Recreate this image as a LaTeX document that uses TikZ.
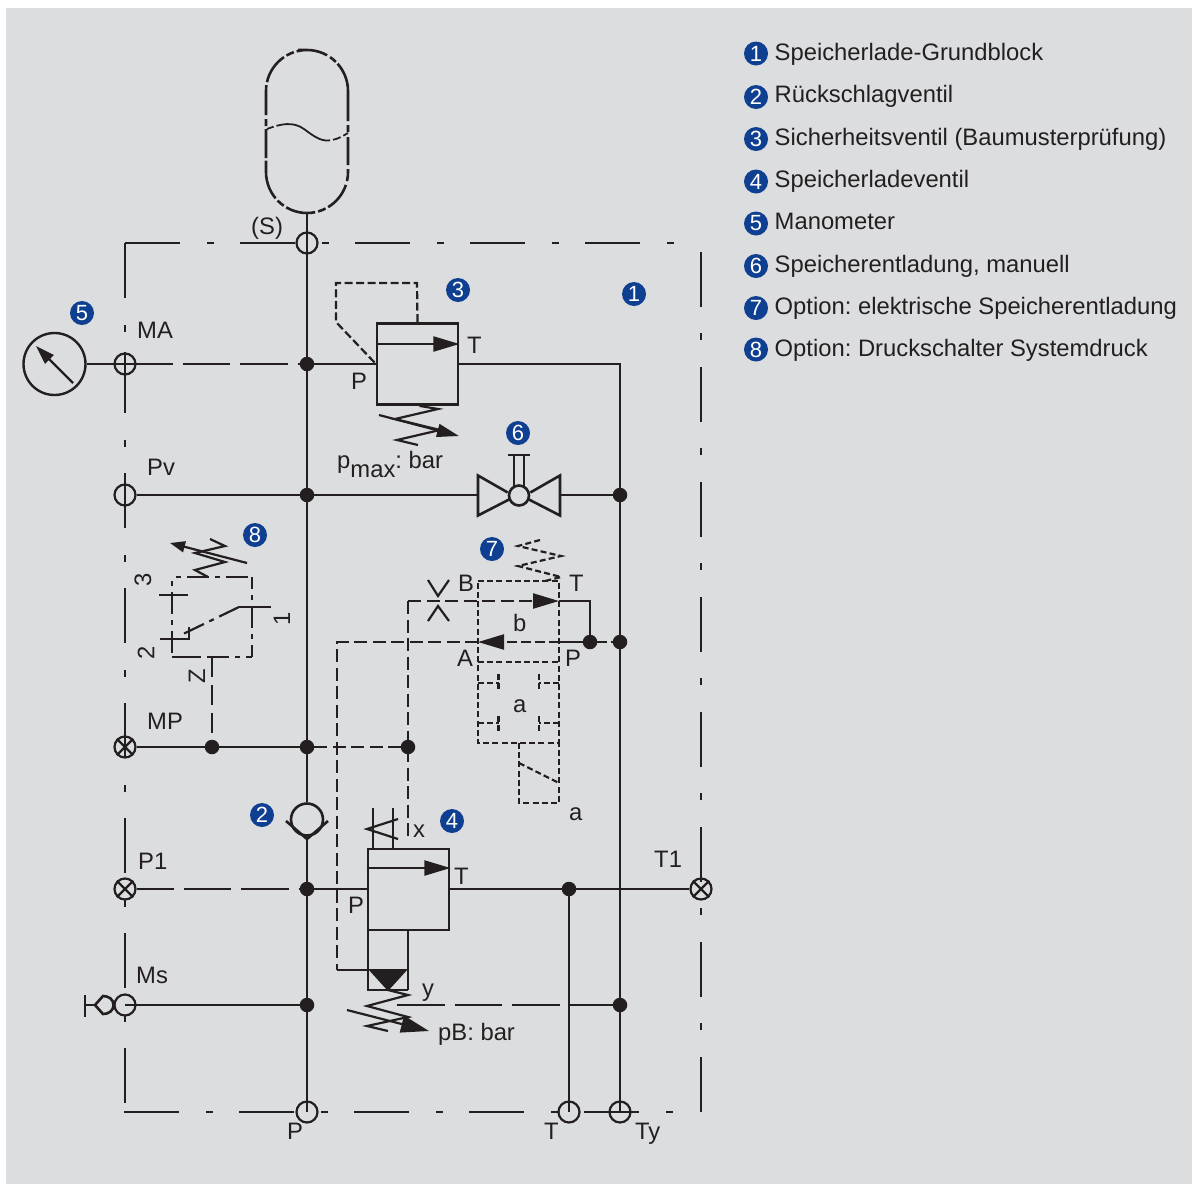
\documentclass[tikz,border=0pt]{standalone}
\usepackage{fontspec}
\setmainfont{Liberation Sans}
\usetikzlibrary{arrows.meta}
\definecolor{panel}{HTML}{DCDDDF}
\definecolor{ink}{HTML}{231F20}
\definecolor{badgeblue}{HTML}{0F3F91}
\tikzset{
  pipe/.style={draw=ink,line width=2.2pt},
  thick box/.style={draw=ink,line width=2.8pt},
  frameline/.style={draw=ink,line width=2.2pt,dash pattern=on 55pt off 27pt on 7pt off 26pt},
  segdash/.style={draw=ink,line width=2.2pt,dash pattern=on 47.5pt off 10pt},
  longdash/.style={draw=ink,line width=2.2pt,dash pattern=on 13pt off 5.5pt},
  boxdash/.style={draw=ink,line width=2.2pt,dash pattern=on 6pt off 3.2pt},
  chaindash/.style={draw=ink,line width=2.2pt,dash pattern=on 22pt off 6pt on 5pt off 6pt},
  junc/.style={circle,fill=ink,draw=none,minimum size=14.5pt,inner sep=0pt},
  port/.style={circle,draw=ink,line width=2.2pt,minimum size=21pt,inner sep=0pt},
  lbl/.style={font=\fontsize{23.8}{24}\selectfont,text=ink,inner sep=0pt,anchor=base west},
  rlbl/.style={font=\fontsize{23.8}{24}\selectfont,text=ink,inner sep=0pt,rotate=90},
  badge/.style={circle,fill=badgeblue,text=white,minimum size=24pt,inner sep=0pt,font=\fontsize{22}{22}\selectfont},
  solidhead/.style={-{Triangle[length=26pt,width=15pt]}},
  adjhead/.style={-{Triangle[length=22pt,width=13pt]}},
}
\begin{document}
\frenchspacing
\begin{tikzpicture}[x=1pt,y=-1pt]
\useasboundingbox (0,0) rectangle (1198,1184);
\fill[panel] (6,8) rectangle (1192,1184);

% --- legend
\foreach \n/\yy/\by/\t in {1/53.5/60.5/Speicherlade-Grundblock,2/97/102.5/Rückschlagventil,3/139/145/Sicherheitsventil (Baumusterprüfung),4/181.5/187.5/Speicherladeventil,5/223.5/229.5/Manometer,6/266/272/{Speicherentladung, manuell},7/308/314.5/Option: elektrische Speicherentladung,8/349.5/356/Option: Druckschalter Systemdruck}{
  \node[badge] (leg\n) at (756,\yy) {\n};
  \node[lbl] (legt\n) at (774.5,\by) {\t};
}

% --- ports
\node[port] (pS) at (307,243) {};
\node[port] (pMA) at (125,364) {};
\node[port] (pPv) at (125,495) {};
\node[port] (pMP) at (125,747) {};
\node[port] (pP1) at (125,889) {};
\node[port] (pMs) at (125,1005) {};
\node[port] (pP) at (307,1112) {};
\node[port] (pT) at (569,1112) {};
\node[port] (pTy) at (620,1112) {};
\node[port] (pT1) at (701,889) {};
\foreach \q in {pMP,pP1,pT1}{
  \draw[pipe] (\q.north west) -- (\q.south east) (\q.north east) -- (\q.south west);
}

% --- junctions
\node[junc] (jMA) at (307,364) {};
\node[junc] (jPv) at (307,495) {};
\node[junc] (jMP) at (307,747) {};
\node[junc] (jP1) at (307,889) {};
\node[junc] (jMs) at (307,1005) {};
\node[junc] (jPvR) at (620,495) {};
\node[junc] (jAR) at (620,642) {};
\node[junc] (jyR) at (620,1005) {};
\node[junc] (jT) at (569,889) {};
\node[junc] (jV) at (590,642) {};
\node[junc] (jZ) at (212,747) {};
\node[junc] (jX) at (408,747) {};

% --- frame
\coordinate (fTL) at (125,243);
\coordinate (fTR) at (675,243);
\coordinate (fBL) at (125,1104);
\coordinate (fB0) at (124,1112);
\coordinate (fBR) at (675,1112);
\coordinate (fRB) at (701,1112);
\coordinate (fRT) at (701,250);
\draw[frameline] (fTL) -- (fTR);
\draw[frameline] (fTL) -- (fBL);
\draw[frameline] (fB0) -- (fBR);
\draw[frameline] (fRB) -- (fRT);

% --- accumulator
\coordinate (tankB) at (307,213);
\draw[draw=ink,line width=2.6pt,dash pattern=on 30pt off 3.5pt on 7.5pt off 2.5pt on 60pt off 4pt on 7pt off 5pt on 28pt off 4pt on 12pt off 4pt on 29pt off 3pt on 8pt off 3pt on 30pt off 3pt on 8pt off 3pt on 40pt off 2.5pt on 29pt off 3pt on 7pt off 4pt on 30pt off 3pt on 31pt off 3pt on 8pt off 3pt]
  (298,50) -- (307,50) .. controls (329.6,50) and (348,68.4) .. (348,91) -- (348,172)
  .. controls (348,194.6) and (329.6,213) .. (tankB)
  .. controls (284.4,213) and (266,194.6) .. (266,172) -- (266,91)
  .. controls (266,68.4) and (284.4,50) .. (307,50);
\draw[draw=ink,line width=1.8pt,dash pattern=on 7pt off 3pt on 58pt off 3pt on 8pt off 3pt on 9pt off 100pt]
  (267,129) .. controls (280,124) and (293,121) .. (304,129)
  .. controls (316,138) and (322,142) .. (332,140) .. controls (338,139) and (343,136) .. (348,133);

% --- main vertical
\node[circle,draw=ink,line width=2.6pt,minimum size=32pt,inner sep=0pt] (cv) at (307,819.5) {};
\coordinate (cvS) at (307,839);
\coordinate (cvL) at (286,821);
\coordinate (cvR) at (328,821);
\draw[draw=ink,line width=2.6pt] (cvL) -- (cvS) -- (cvR);
\draw[pipe] (tankB) -- (cv.north);
\draw[pipe] (cvS) -- (pP.center);

% --- gauge
\node[circle,draw=ink,line width=2.4pt,minimum size=62pt,inner sep=0pt] (gauge) at (54.5,364) {};
\coordinate (ndlA) at (73,383);
\coordinate (ndlB) at (36,346);
\draw[pipe,-{Triangle[length=19pt,width=12pt]}] (ndlA) -- (ndlB);
\draw[pipe] (gauge.east) -- (pMA.center);
\draw[pipe] (pMA.north) -- (pMA.south);

% --- horizontal rows
\draw[segdash] (pMA.center) -- (jMA);
\draw[pipe] (jMA) -- (377,364);
\coordinate (v3T) at (458,364);
\coordinate (cT3) at (620,364);
\draw[pipe] (v3T) -- (cT3) -- (pTy.center);
\draw[pipe] (pPv.east) -- (jPv) -- (478,495);
\draw[pipe] (560,495) -- (jPvR);
\draw[pipe] (pMP.east) -- (jZ) -- (jMP);
\draw[longdash] (jMP) -- (jX);
\draw[segdash,dash phase=10.5pt] (pP1.east) -- (jP1);
\draw[pipe] (jP1) -- (368,889);
\draw[pipe] (449,889) -- (jT) -- (pT1.west);
\draw[pipe] (jT) -- (pT.center);
\draw[pipe] (pMs.center) -- (jMs);
\coordinate (yStart) at (397,1005);
\draw[segdash] (yStart) -- (jyR);

% --- Ms coupling
\coordinate (msCapT) at (85,995);
\coordinate (msCapB) at (85,1017);
\draw[draw=ink,line width=2.4pt] (msCapT) -- (msCapB);
\draw[pipe] (85,1005) -- (95,1005);
\draw[draw=ink,line width=2.6pt] (95,1005) -- (103,996) .. controls (109,996) and (113.5,999.5) .. (113.5,1005) .. controls (113.5,1010.5) and (109,1014) .. (103,1014) -- cycle;

% --- safety valve 3
\node[thick box,rectangle,minimum width=81pt,minimum height=81pt,inner sep=0pt] (v3) at (417.5,364) {};
\draw[pipe,solidhead] (v3.west |- 0,344) -- (v3.east |- 0,344);
\coordinate (d3a) at (417,283);
\coordinate (d3b) at (336,283);
\coordinate (d3c) at (336,322);
\coordinate (d3d) at (375,363);
\draw[longdash,dash pattern=on 8pt off 3.5pt] (v3.north) -- (d3a) -- (d3b) -- (d3c) -- (d3d);
\draw[pipe] (v3.south) ++(2,0) -- (438,409) -- (395,419) -- (440,430) -- (397,440) -- (418,445);
\draw[pipe,adjhead] (379,415) -- (459,436);

% --- manual valve 6
\node[circle,draw=ink,line width=2.6pt,minimum size=20pt,inner sep=0pt] (v6) at (519,495.5) {};
\draw[draw=ink,line width=2.6pt] (v6.west) ++(0,-3) -- (478,475.5) -- (478,515.5) -- (510,499);
\draw[draw=ink,line width=2.6pt] (v6.east) ++(0,-3) -- (560,475.5) -- (560,515.5) -- (528,499);
\draw[pipe] (514,486) -- (514,455) (524,486) -- (524,455);
\draw[pipe] (508,455) -- (530,455);

% --- pressure switch 8
\coordinate (s8a) at (172,577);
\coordinate (s8b) at (252,577);
\coordinate (s8c) at (252,657);
\coordinate (s8d) at (172,657);
\draw[chaindash,dash phase=24pt] (s8a) -- (s8b);
\draw[chaindash,dash phase=24pt] (s8a) -- (s8d);
\draw[chaindash,dash phase=10pt] (s8b) -- (s8c);
\draw[chaindash,dash phase=4pt] (s8d) -- (s8c);
\draw[pipe] (s8d) -- ++(27,0);
\draw[pipe] (159,595) -- (188,595);
\draw[pipe] (160,639) -- (189,639) -- (189,627);
\draw[pipe] (271,607) -- (239,607);
\draw[chaindash] (239,607) -- (181,635);
\coordinate (z8) at (212,657);
\draw[pipe] (z8) -- (212,677);
\draw[draw=ink,line width=2.2pt,dash pattern=on 20pt off 8pt] (212,685) -- (jZ);
\draw[pipe] (208,577) -- (195,570) -- (225,562) -- (195,553) -- (225,546) -- (210,539);
\draw[pipe,-{Triangle[length=15pt,width=11pt]}] (247,563) -- (170,543);

% --- electric unloading valve 7
\coordinate (v7TL) at (478,581);
\coordinate (v7TR) at (559,581);
\coordinate (v7ML) at (478,662);
\coordinate (v7MR) at (559,662);
\coordinate (v7BL) at (478,743);
\coordinate (v7BR) at (559,743);
\draw[boxdash] (v7TL) -- (v7TR) -- (v7BR) -- (v7BL) -- cycle;
\draw[boxdash] (v7ML) -- (v7MR);
\draw[boxdash] (478,683) -- (498.5,683);
\draw[boxdash] (498.5,673.5) -- (498.5,690);
\draw[boxdash] (559,683) -- (539,683);
\draw[boxdash] (539,673.5) -- (539,690);
\draw[boxdash] (478,723) -- (498.5,723);
\draw[boxdash] (498.5,716) -- (498.5,732);
\draw[boxdash] (559,723) -- (539,723);
\draw[boxdash] (539,716) -- (539,732);
\draw[boxdash] (519,743) -- (519,803) -- (559,803) -- (559,743);
\draw[boxdash] (519,763) -- (559,783);
\draw[boxdash] (540,540) -- (518,546) -- (561,556) -- (518,566) -- (561,577) -- (545,581);
% lines through valve 7
\coordinate (xCorner) at (408,601);
\coordinate (xEnd) at (408,840);
\coordinate (yCorner) at (337,642);
\coordinate (yBottom) at (337,970);
\draw[longdash,-{Triangle[length=26pt,width=15pt]}] (xCorner) -- (559,601);
\draw[pipe] (559,601) -- (590,601) -- (jV);
\draw[longdash] (xCorner) -- (xEnd);
\draw[longdash,dash pattern=on 10pt off 4pt,-{Triangle[length=26pt,width=15pt]}] (559,642) -- (478,642);
\draw[pipe] (559,642) -- (jV);
\draw[longdash,dash pattern=on 10pt off 4pt] (jV) -- (jAR);
\draw[longdash] (478,642) -- (yCorner) -- (yBottom);
\draw[pipe] (yBottom) -- (368,970);
% orifice
\draw[pipe] (428,580) -- (438,596) -- (449,580);
\draw[pipe] (428,621) -- (438,606) -- (449,621);

% --- charging valve 4
\node[thick box,rectangle,minimum width=81pt,minimum height=81pt,inner sep=0pt] (v4) at (408.5,889.5) {};
\draw[pipe,solidhead] (v4.west |- 0,868) -- (v4.east |- 0,868);
\draw[thick box] (368,930) -- (368,990) -- (408,990);
\draw[draw=ink,line width=2.4pt] (408,990) -- (408,930);
\fill[ink] (368,969) -- (408,969) -- (388,991) -- cycle;
\draw[pipe] (373,849) -- (373,808) (393,849) -- (393,808);
\draw[pipe] (398,819) -- (367,829) -- (398,839);
\draw[pipe] (388,990) -- (408,995) -- (367,1006) -- (408,1017) -- (367,1026) -- (388,1031);
\draw[pipe,-{Triangle[length=28pt,width=17pt]}] (347,1010) -- (429,1031);

% --- labels
\node[lbl] (tS) at (251,234.5) {(S)};
\node[lbl] (tMA) at (137,338) {MA};
\node[lbl] (tT3) at (467,353) {T};
\node[lbl] (tP3) at (351,389) {P};
\node[lbl] (tPmax) at (337,468.5) {p\raisebox{-9pt}{max}: bar};
\node[lbl] (tPv) at (147,475) {Pv};
\node[lbl] (tMP) at (147,729) {MP};
\node[lbl] (tB) at (458,591) {B};
\node[lbl] (tT7) at (569,591) {T};
\node[lbl] (tb) at (513,631) {b};
\node[lbl] (tA) at (457,666) {A};
\node[lbl] (tP7) at (565,666) {P};
\node[lbl] (ta) at (513,712) {a};
\node[lbl] (ta2) at (569,820) {a};
\node[lbl] (tx) at (413,837) {x};
\node[lbl] (tT4) at (454,884) {T};
\node[lbl] (tP4) at (348,913) {P};
\node[lbl] (ty) at (422,996) {y};
\node[lbl] (tpB) at (438,1040) {pB: bar};
\node[lbl] (tP1) at (138,869) {P1};
\node[lbl] (tMs) at (136,983) {Ms};
\node[lbl] (tT1) at (654,867) {T1};
\node[lbl] (tP) at (287,1139) {P};
\node[lbl] (tT) at (544,1139) {T};
\node[lbl] (tTy) at (635,1139) {Ty};
\node[rlbl] (r3) at (143,580) {3};
\node[rlbl] (r2) at (146,653) {2};
\node[rlbl] (r1) at (282,619) {1};
\node[rlbl] (rZ) at (197,676) {Z};

% --- badges
\node[badge] (b1) at (634,294) {1};
\node[badge] (b2) at (262,815) {2};
\node[badge] (b3) at (458,290) {3};
\node[badge] (b4) at (452,821) {4};
\node[badge] (b5) at (82,313) {5};
\node[badge] (b6) at (518,433) {6};
\node[badge] (b7) at (492,549) {7};
\node[badge] (b8) at (255,535) {8};
\end{tikzpicture}
\end{document}
